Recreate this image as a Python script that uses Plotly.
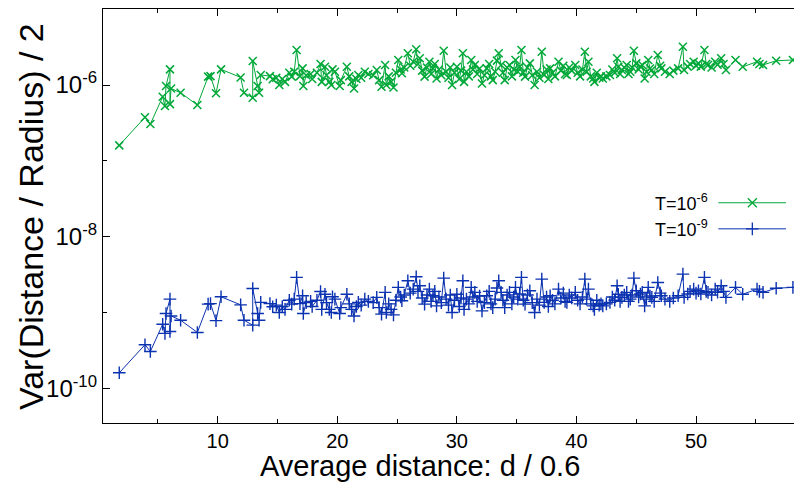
import plotly.graph_objects as go

# Average distance (d / 0.6)
dist = [
    1.77, 3.92, 4.37, 5.40, 5.59, 5.68, 6.01, 6.01, 6.10, 6.90,
    8.30, 9.20, 9.40, 9.86, 10.28, 11.92, 12.20, 12.93, 12.93, 13.34,
    13.46, 13.60, 14.37, 14.60, 14.90, 15.15, 15.40, 15.63, 15.99, 16.19,
    16.40, 16.60, 16.88, 17.10, 17.16, 17.40, 17.77, 17.90, 18.30, 18.60,
    18.70, 18.97, 19.10, 19.33, 19.50, 19.60, 19.80, 20.20, 20.30, 20.80,
    21.0, 21.2, 21.4, 21.6, 21.76, 22.0, 22.3, 22.6, 23.0, 23.3,
    23.5, 23.7, 24.0, 24.1, 24.3, 24.5, 24.7, 24.9, 25.1, 25.3,
    25.4, 25.6, 25.9, 26.1, 26.35, 26.6, 26.75, 26.9, 27.1, 27.3,
    27.5, 27.7, 27.85, 28.0, 28.15, 28.3, 28.5, 28.7, 28.9, 29.1,
    29.3, 29.45, 29.6, 29.8, 30.0, 30.2, 30.35, 30.5, 30.6, 30.8,
    31.0, 31.2, 31.35, 31.5, 31.7, 31.9, 32.1, 32.3, 32.5, 32.7,
    32.85, 33.0, 33.2, 33.35, 33.5, 33.7, 33.85, 34.0, 34.2, 34.4,
    34.6, 34.75, 34.9, 35.1, 35.25, 35.4, 35.55, 35.7, 35.9, 36.1,
    36.3, 36.5, 36.7, 36.9, 37.1, 37.3, 37.5, 37.65, 37.8, 38.0,
    38.2, 38.5, 38.7, 38.9, 39.05, 39.2, 39.4, 39.6, 39.9, 40.1,
    40.3, 40.5, 40.7, 40.85, 41.0, 41.2, 41.4, 41.5, 41.7, 41.9,
    42.05, 42.2, 42.5, 42.8, 43.0, 43.2, 43.4, 43.5, 43.65, 43.8,
    44.0, 44.2, 44.35, 44.5, 44.65, 44.8, 45.0, 45.2, 45.35, 45.5,
    45.7, 45.85, 46.0, 46.15, 46.3, 46.5, 46.8, 47.0, 47.1, 47.4,
    47.8, 48.1, 48.5, 48.9, 49.0, 49.3, 49.5, 49.8, 50.0, 50.2,
    50.4, 50.7, 50.85, 51.0, 51.3, 51.6, 51.8, 52.1, 52.3, 52.5,
    53.3, 53.9, 55.1, 55.3, 55.6, 56.7, 58.1,
]

# Var(Distance / Radius) / 2 for T = 1e-6, in units of 1e-6
var_t6_e6 = [
    0.16, 0.375, 0.306, 0.70, 0.53, 0.97, 1.61, 0.56, 0.90, 0.79,
    0.545, 1.29, 1.31, 0.78, 1.61, 1.26, 0.79, 0.68, 2.07, 0.97,
    0.79, 1.36, 1.31, 1.19, 1.25, 1.00, 1.20, 1.10, 1.45, 1.29,
    1.50, 2.90, 1.31, 1.66, 0.97, 1.35, 1.40, 1.20, 1.45, 1.89,
    1.10, 1.74, 1.35, 1.10, 1.00, 1.61, 1.50, 0.97, 1.16, 1.74,
    1.30, 1.10, 0.90, 1.20, 1.36, 1.25, 1.50, 1.40, 1.35, 1.58,
    1.16, 0.95, 1.84, 1.00, 1.30, 1.10, 0.93, 1.45, 2.14, 1.60,
    1.43, 1.70, 2.62, 1.80, 2.03, 2.96, 1.90, 2.25, 1.55, 1.29,
    1.70, 2.03, 1.40, 1.66, 1.90, 1.22, 1.60, 1.35, 2.84, 1.50,
    1.25, 1.70, 1.00, 1.45, 1.74, 1.20, 1.55, 2.62, 1.10, 1.50,
    1.30, 2.14, 1.60, 1.84, 1.40, 1.65, 1.05, 1.35, 1.66, 1.90,
    1.30, 1.16, 1.50, 2.10, 2.62, 1.84, 1.45, 1.16, 1.70, 1.84,
    1.30, 1.60, 2.14, 1.50, 1.75, 2.90, 1.45, 1.29, 1.70, 1.93,
    1.35, 1.00, 1.50, 1.25, 2.75, 1.36, 1.60, 1.20, 1.66, 1.45,
    1.30, 2.03, 1.55, 1.80, 1.40, 1.36, 1.70, 1.55, 1.84, 1.45,
    1.30, 1.60, 2.75, 1.50, 2.03, 1.30, 1.22, 1.10, 1.45, 1.25,
    1.30, 1.22, 1.30, 1.36, 1.60, 1.45, 2.25, 1.74, 1.40, 1.58,
    1.70, 1.84, 1.40, 1.50, 1.70, 2.84, 1.93, 1.60, 1.75, 1.84,
    1.22, 1.50, 2.14, 1.65, 1.58, 1.40, 2.49, 1.80, 1.66, 1.50,
    1.40, 1.55, 1.66, 3.20, 1.58, 1.75, 1.90, 2.03, 1.80, 1.93,
    1.75, 2.90, 1.90, 1.84, 1.70, 2.03, 1.85, 2.25, 1.90, 1.58,
    2.14, 1.74, 2.03, 1.90, 1.84, 2.09, 2.14,
]

# Var(Distance / Radius) / 2 for T = 1e-9, in units of 1e-9
var_t9_e9 = [
    0.16, 0.375, 0.306, 0.70, 0.53, 0.97, 1.50, 0.56, 0.90, 0.79,
    0.545, 1.29, 1.31, 0.78, 1.61, 1.26, 0.79, 0.68, 2.07, 0.97,
    0.79, 1.36, 1.31, 1.19, 1.25, 1.00, 1.20, 1.10, 1.45, 1.29,
    1.50, 2.90, 1.31, 1.66, 0.97, 1.35, 1.40, 1.20, 1.45, 1.89,
    1.10, 1.74, 1.35, 1.10, 1.00, 1.61, 1.50, 0.97, 1.16, 1.74,
    1.30, 1.10, 0.90, 1.20, 1.36, 1.25, 1.50, 1.40, 1.35, 1.58,
    1.16, 0.95, 1.84, 1.00, 1.30, 1.10, 0.93, 1.45, 2.14, 1.60,
    1.43, 1.70, 2.62, 1.80, 2.03, 2.96, 1.90, 2.25, 1.55, 1.29,
    1.70, 2.03, 1.40, 1.66, 1.90, 1.22, 1.60, 1.35, 2.84, 1.50,
    1.25, 1.70, 1.00, 1.45, 1.74, 1.20, 1.55, 2.62, 1.10, 1.50,
    1.30, 2.14, 1.60, 1.84, 1.40, 1.65, 1.05, 1.35, 1.66, 1.90,
    1.30, 1.16, 1.50, 2.10, 2.62, 1.84, 1.45, 1.16, 1.70, 1.84,
    1.30, 1.60, 2.14, 1.50, 1.75, 2.90, 1.45, 1.29, 1.70, 1.93,
    1.35, 1.00, 1.50, 1.25, 2.75, 1.36, 1.60, 1.20, 1.66, 1.45,
    1.30, 2.03, 1.55, 1.80, 1.40, 1.36, 1.70, 1.55, 1.84, 1.45,
    1.30, 1.60, 2.75, 1.50, 2.03, 1.30, 1.22, 1.10, 1.45, 1.25,
    1.30, 1.22, 1.30, 1.36, 1.60, 1.45, 2.25, 1.74, 1.40, 1.58,
    1.70, 1.84, 1.40, 1.50, 1.70, 2.84, 1.93, 1.60, 1.75, 1.84,
    1.22, 1.50, 2.14, 1.65, 1.58, 1.40, 2.49, 1.80, 1.66, 1.50,
    1.40, 1.55, 1.66, 3.20, 1.58, 1.75, 1.90, 2.03, 1.80, 1.93,
    1.75, 2.90, 1.90, 1.84, 1.70, 2.03, 1.85, 2.25, 1.90, 1.58,
    2.14, 1.74, 2.03, 1.90, 1.84, 2.09, 2.14,
]

series_names = ["T=10<sup>-6</sup>", "T=10<sup>-9</sup>"]
x_tick_vals = [10, 20, 30, 40, 50]
x_minor_vals = [5, 15, 25, 35, 45, 55]
y_tick_vals = [1e-10, 1e-8, 1e-6]
y_tick_text = ["10<sup>-10</sup>", "10<sup>-8</sup>", "10<sup>-6</sup>"]
y_minor_vals = [1e-9, 1e-7]

GREEN = "#00a838"
BLUE = "#0b32b0"
FONT = "Liberation Sans, Arial, sans-serif"

y6 = [v * 1e-6 for v in var_t6_e6]
y9 = [v * 1e-9 for v in var_t9_e9]

fig = go.Figure()
fig.add_trace(go.Scatter(
    x=dist, y=y6, mode="lines+markers", showlegend=False,
    line=dict(color=GREEN, width=1),
    marker=dict(symbol="x-thin", size=8, line=dict(color=GREEN, width=1.5)),
))
fig.add_trace(go.Scatter(
    x=dist, y=y9, mode="lines+markers", showlegend=False,
    line=dict(color=BLUE, width=1),
    marker=dict(symbol="cross-thin", size=9, line=dict(color=BLUE, width=1.4)),
))

# gnuplot-style key (text left, sample right) drawn on an overlay axis
key_y = [0.532, 0.469]
key_colors = [GREEN, BLUE]
key_symbols = ["x-thin", "cross-thin"]
for ky, kc, ks, name in zip(key_y, key_colors, key_symbols, series_names):
    fig.add_trace(go.Scatter(
        x=[0.8905, 0.9884], y=[ky, ky], xaxis="x2", yaxis="y2",
        mode="lines", line=dict(color=kc, width=1), showlegend=False,
        hoverinfo="skip",
    ))
    fig.add_trace(go.Scatter(
        x=[0.9397], y=[ky], xaxis="x2", yaxis="y2", mode="markers",
        marker=dict(symbol=ks, size=9, line=dict(color=kc, width=1.3)),
        showlegend=False, hoverinfo="skip",
    ))
    fig.add_annotation(
        x=0.878, y=ky, xref="x2", yref="y2", text=name, showarrow=False,
        xanchor="right", yanchor="middle", font=dict(size=18, color="black", family=FONT),
    )

fig.add_annotation(
    x=0.459, y=-0.104, xref="paper", yref="paper",
    text="Average distance: d / 0.6", showarrow=False,
    xanchor="center", yanchor="middle", font=dict(size=29, color="black", family=FONT),
)
fig.add_annotation(
    x=-0.104, y=0.498, xref="paper", yref="paper", textangle=-90,
    text="Var(Distance / Radius) / 2", showarrow=False,
    xanchor="center", yanchor="middle", font=dict(size=34, color="black", family=FONT),
)

fig.update_layout(
    width=794, height=483,
    margin=dict(l=103, r=0, t=9, b=60),
    paper_bgcolor="white", plot_bgcolor="white",
    font=dict(family=FONT, color="black", size=20),
    xaxis=dict(
        range=[0.41, 58.19], tickmode="array", tickvals=x_tick_vals,
        ticks="inside", ticklen=7, tickwidth=1, tickcolor="black",
        showline=True, linecolor="black", linewidth=1.3, mirror="allticks",
        showgrid=False, zeroline=False,
        tickfont=dict(size=20, family=FONT),
        minor=dict(tickvals=x_minor_vals, ticks="inside", ticklen=4, tickcolor="black", showgrid=False),
    ),
    yaxis=dict(
        type="log", range=[-10.458, -4.997], tickmode="array",
        tickvals=y_tick_vals, ticktext=y_tick_text,
        ticks="inside", ticklen=7, tickwidth=1, tickcolor="black",
        showline=True, linecolor="black", linewidth=1.3, mirror=False,
        showgrid=False, zeroline=False,
        tickfont=dict(size=24, family=FONT),
        minor=dict(tickvals=y_minor_vals, ticks="inside", ticklen=4, tickcolor="black", showgrid=False),
    ),
    xaxis2=dict(overlaying="x", range=[0, 1], visible=False, fixedrange=True),
    yaxis2=dict(overlaying="y", range=[0, 1], visible=False, fixedrange=True),
)

fig.write_html("out.html")
